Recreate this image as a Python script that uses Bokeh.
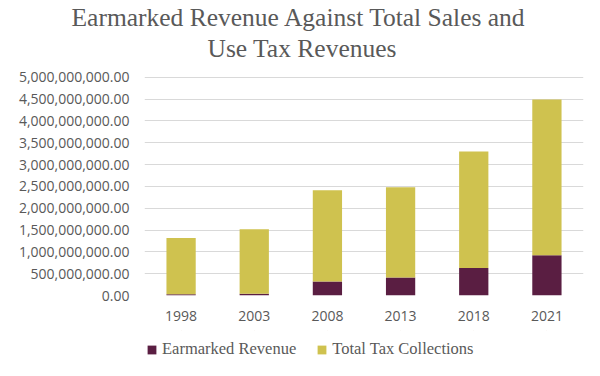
from bokeh.plotting import figure
from bokeh.layouts import column
from bokeh.models import (ColumnDataSource, NumeralTickFormatter, FixedTicker, Title,
                          Legend, LegendItem, Range1d)
from bokeh.embed import file_html
from bokeh.resources import INLINE

years = ["1998", "2003", "2008", "2013", "2018", "2021"]
earmarked = [0.03e9, 0.04e9, 0.32e9, 0.41e9, 0.63e9, 0.92e9]
total_tax = [1.29e9, 1.48e9, 2.09e9, 2.07e9, 2.67e9, 3.57e9]
series = ["Earmarked Revenue", "Total Tax Collections"]
colors = ["#5a1e42", "#cfc24f"]
y_ticks = [i * 500_000_000 for i in range(11)]
title_lines = ["Earmarked Revenue Against Total Sales and", "Use Tax Revenues"]

W = 600
TEXT = "#595959"
serif = "Liberation Serif"

# ---- main chart (titles live in its top border) ----
source = ColumnDataSource(dict(years=years, **{series[0]: earmarked, series[1]: total_tax}))
MH = 330
TOP = 60          # frame top (px); 5e9 gridline sits at 75 px
BOT = 35
px_per_unit = 220 / 5e9
y_end = 5e9 + (75 - TOP) / px_per_unit
p = figure(x_range=years, y_range=Range1d(0, y_end), width=W, height=MH,
           output_backend="svg", toolbar_location=None,
           min_border_left=144, min_border_right=17, min_border_top=TOP, min_border_bottom=BOT)
rs = p.vbar_stack(series, x="years", width=0.4, color=colors, source=source, line_color=None)

p.xgrid.grid_line_color = None
p.ygrid.grid_line_color = "#d9d9d9"
p.ygrid.grid_line_width = 1
p.outline_line_color = None
p.yaxis.ticker = FixedTicker(ticks=y_ticks)
p.ygrid.ticker = FixedTicker(ticks=y_ticks)
p.yaxis.formatter = NumeralTickFormatter(format="0,0.00")
for ax in (p.xaxis[0], p.yaxis[0]):
    ax.axis_line_color = None
    ax.major_tick_line_color = None
    ax.minor_tick_line_color = None
    ax.major_label_text_color = TEXT
    ax.major_label_text_font = "Open Sans"
    ax.major_label_text_font_size = "14px"
p.xaxis.major_label_standoff = 9
p.yaxis.major_label_standoff = 9

p.add_layout(Title(text=title_lines[1], align="left", offset=63, standoff=0,
                   text_font=serif, text_font_size="25.5px", text_font_style="normal",
                   text_color=TEXT), "above")
p.add_layout(Title(text=title_lines[0], align="left", offset=-73, standoff=0,
                   text_font=serif, text_font_size="25.5px", text_font_style="normal",
                   text_color=TEXT), "above")

# ---- legend strip (its bars sit far outside its visible range) ----
LH = 376 - MH
pl = figure(width=W, height=LH, x_range=years, y_range=Range1d(-1.2e10, -1.1e10),
            output_backend="svg", toolbar_location=None,
            min_border_left=0, min_border_right=0, min_border_top=0, min_border_bottom=0)
pl.axis.visible = False
pl.grid.visible = False
pl.outline_line_color = None
leg_rs = pl.vbar_stack(series, x="years", width=0.001, color=colors, source=source, line_color=None)
legend = Legend(items=[LegendItem(label=series[i], renderers=[leg_rs[i]]) for i in range(2)],
                orientation="horizontal", location=(2, 17), margin=0, padding=0,
                label_text_font=serif, label_text_font_size="16.5px",
                label_text_color=TEXT, glyph_width=11, glyph_height=11,
                spacing=20, background_fill_alpha=0, border_line_color=None,
                label_standoff=5)
pl.add_layout(legend, "center")

layout = column(p, pl, spacing=0)
open("out.html", "w").write(file_html(layout, INLINE))
